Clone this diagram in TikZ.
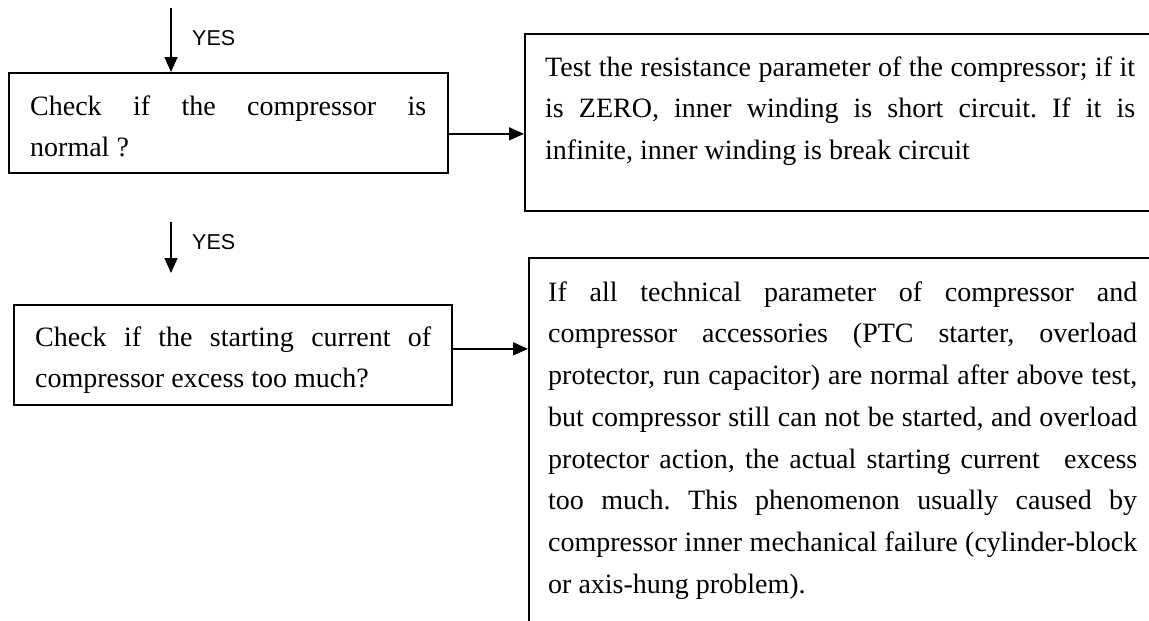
\documentclass[tikz,border=0pt]{standalone}
\usepackage{fontspec}
\setmainfont{Liberation Serif}
\newfontfamily\yesfont{Liberation Sans}
\usetikzlibrary{arrows.meta}
\newcommand{\firstl}{\rule{0pt}{30pt}}
\newcommand{\txtsetup}{\fontsize{28}{41.7}\selectfont\frenchspacing\hyphenpenalty=10000\relax\exhyphenpenalty=10000\relax\tolerance=10000\relax\hbadness=10000\relax}
\begin{document}
\begin{tikzpicture}[x=1pt,y=-1pt,
  box/.style={draw, line width=1.7pt, rectangle, inner sep=0pt, anchor=north west},
  txt/.style={inner sep=0pt, anchor=north west, align=justify, font=\txtsetup},
  yes/.style={inner sep=0pt, anchor=west, font=\yesfont\fontsize{21.5}{24}\selectfont},
  arr/.style={line width=1.5pt, -{Triangle[length=15pt,width=13pt]}}
]
\useasboundingbox (0,0) rectangle (1149,621);
% boxes
\node[box, minimum width=439pt, minimum height=100pt] (box1) at (8,72) {};
\node[box, minimum width=700pt, minimum height=177pt] (box2) at (524,33) {};
\node[box, minimum width=438pt, minimum height=100pt] (box3) at (13,304) {};
\node[box, minimum width=700pt, minimum height=420pt] (box4) at (528,257) {};
% texts
\node[txt, text width=396pt] (t1) at (30,85) {\firstl Check if the compressor is\linebreak normal~?};
\node[txt, text width=590pt] (t2) at (545,46) {\firstl Test the resistance parameter of the compressor; if it\linebreak is ZERO, inner winding is short circuit. If it is\linebreak infinite, inner winding is break circuit};
\node[txt, text width=396pt] (t3) at (35,316) {\firstl Check if the starting current of\linebreak compressor excess too much?};
\node[txt, text width=589pt] (t4) at (548,271) {\firstl If all technical parameter of compressor and\linebreak compressor accessories (PTC starter, overload\linebreak protector, run capacitor) are normal after above test,\linebreak but compressor still can not be started, and overload\linebreak protector action, the actual starting current\hspace{0.5em} excess\linebreak too much. This phenomenon usually caused by\linebreak compressor inner mechanical failure (cylinder-block\linebreak or axis-hung problem).};
% YES labels
\node[yes] (yes1) at (192,38) {YES};
\node[yes] (yes2) at (192,242) {YES};
% connectors
\coordinate (a1) at (171,8);
\draw[arr] (a1) -- (a1 |- box1.north);
\coordinate (a2s) at (171,222);
\coordinate (a2e) at (171,273);
\draw[arr] (a2s) -- (a2e);
\coordinate (c1) at ([yshift=-11pt]box1.east);
\draw[arr] (c1) -- (c1 -| box2.west);
\coordinate (c2) at ([yshift=6pt]box3.east);
\draw[arr] (c2) -- (c2 -| box4.west);
\end{tikzpicture}
\end{document}
